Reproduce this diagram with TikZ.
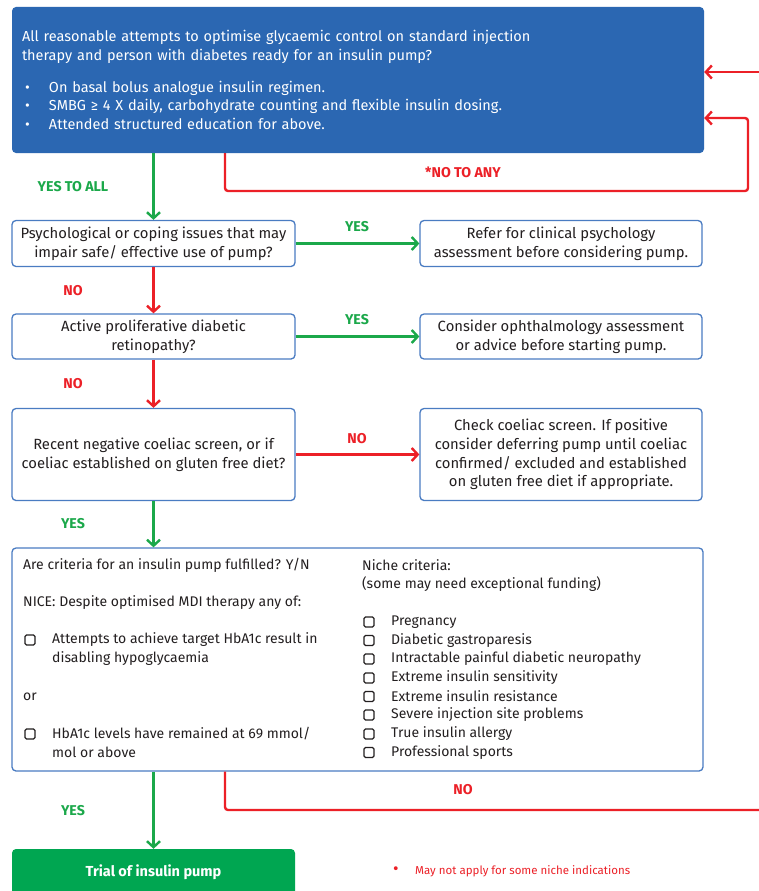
\documentclass[tikz,border=0pt]{standalone}
\usepackage{fontspec}
\setmainfont{Fira Sans}
\newfontfamily\critfont{Fira Sans}
\usetikzlibrary{arrows.meta}
\usetikzlibrary{calc}

\definecolor{boxblue}{HTML}{2B67B2}
\definecolor{edgeblue}{HTML}{4A7CC2}
\definecolor{yesgreen}{HTML}{1BA84A}
\definecolor{nored}{HTML}{EC2027}
\definecolor{pumpgreen}{HTML}{00A651}
\definecolor{txt}{HTML}{231F20}

\tikzset{
  qbox/.style={draw=edgeblue, line width=1.3pt, rounded corners=4pt, fill=white, text=txt,
    align=center, inner sep=2pt, font=\fontsize{14.8}{18.7}\selectfont},
  yes/.style={draw=yesgreen, line width=2.4pt, -{Straight Barb[length=6pt,width=13pt]}},
  no/.style={draw=nored, line width=2.4pt, -{Straight Barb[length=6pt,width=13pt]}},
  yeslbl/.style={text=yesgreen, font=\fontsize{14.2}{16}\selectfont\bfseries},
  nolbl/.style={text=nored, font=\fontsize{14.2}{16}\selectfont\bfseries},
  crittext/.style={anchor=west, text=txt, inner sep=0pt, font=\critfont\fontsize{14}{18.7}\selectfont},
  tick/.style={draw=txt, line width=1.1pt, rounded corners=1.5pt, minimum size=10pt, inner sep=0pt}
}

\begin{document}
\begin{tikzpicture}[x=1pt, y=-1pt]
    \useasboundingbox[fill=white] (0,0) rectangle (759,891);

    % top question
    \node[fill=boxblue, rounded corners=4pt, text=white, align=left, text width=672pt, inner xsep=10pt,
      minimum width=692pt, minimum height=146pt, font=\fontsize{14.5}{18.6}\selectfont] (top) at (358,80) {%
      All reasonable attempts to optimise glycaemic control on standard injection\\
      therapy and person with diabetes ready for an insulin pump?\\[13.5pt]
      \makebox[27pt][l]{\hspace{3pt}•}On basal bolus analogue insulin regimen.\\
      \makebox[27pt][l]{\hspace{3pt}•}SMBG ≥ 4 X daily, carbohydrate counting and flexible insulin dosing.\\
      \makebox[27pt][l]{\hspace{3pt}•}Attended structured education for above.};

    % questions and referrals
    \node[qbox, minimum width=283pt, minimum height=46pt] (psy) at (153.5,243.5) {Psychological or coping issues that may\\impair safe/ effective use of pump?};
    \node[qbox, minimum width=282pt, minimum height=46pt] (psyref) at (561,243.5) {Refer for clinical psychology\\assessment before considering pump.};
    \node[qbox, minimum width=283pt, minimum height=45pt] (ret) at (153.5,336.5) {Active proliferative diabetic\\retinopathy?};
    \node[qbox, minimum width=282pt, minimum height=45pt] (retref) at (561,336.5) {Consider ophthalmology assessment\\or advice before starting pump.};
    \node[qbox, minimum width=283pt, minimum height=92pt] (coel) at (153.5,454.5) {Recent negative coeliac screen, or if\\coeliac established on gluten free diet?};
    \node[qbox, minimum width=282pt, minimum height=92pt] (coelref) at (561,454.5) {Check coeliac screen. If positive\\consider deferring pump until coeliac\\confirmed/ excluded and established\\on gluten free diet if appropriate.};

    % criteria box
    \node[qbox, minimum width=691pt, minimum height=223pt] (crit) at (357.5,659.5) {};
    \node[crittext] (critq) at (23,565) {Are criteria for an insulin pump fulfilled? Y/N};
    \node[crittext] (nice) at (23,603) {NICE: Despite optimised MDI therapy any of:};
    \node[tick] (t1) at (30,640) {};
    \node[crittext] (hypo) at (52,640) {Attempts to achieve target HbA1c result in};
    \node[crittext] (hypob) at (52,659) {disabling hypoglycaemia};
    \node[crittext] (or) at (23,697) {or};
    \node[tick] (t2) at (30,734) {};
    \node[crittext] (hba) at (52,734) {HbA1c levels have remained at 69 mmol/};
    \node[crittext] (hbab) at (52,752.5) {mol or above};
    \node[crittext] (niche) at (362,565) {Niche criteria:};
    \node[crittext] (fund) at (362,584) {(some may need exceptional funding)};
    \foreach \y/\lbl [count=\i] in {622/Pregnancy, 640.5/Diabetic gastroparesis, 659/Intractable painful diabetic neuropathy,
        678/Extreme insulin sensitivity, 696.5/Extreme insulin resistance, 715/Severe injection site problems,
        734/True insulin allergy, 752.5/Professional sports}
      \node[tick] (n\i) at (369,\y) {} node[crittext] (nl\i) at (391,\y) {\lbl};

    % end
    \node[fill=pumpgreen, rounded corners=4pt, text=white, minimum width=283pt, minimum height=46pt,
      font=\fontsize{14.5}{16}\selectfont\bfseries] (trial) at (153.5,872) {Trial of insulin pump};
    \node[text=nored, anchor=west, inner sep=0pt, font=\fontsize{11.5}{13}\selectfont] (note) at (393,871)
      {\makebox[22pt][l]{\fontsize{17}{13}\selectfont•}May not apply for some niche indications};

    % connectors
    \coordinate (loopx) at (225,191);
    \coordinate (loopr) at (748,118);
    \coordinate (edge1) at (759,72);
    \coordinate (nox) at (225,810);
    \coordinate (edge2) at (759,810);

    \draw[yes] (top.south -| psy) -- (psy.north);
    \draw[no, rounded corners=3pt] (top.south -| loopx) -- (loopx) -| (loopr) -- (top.east |- loopr);
    \draw[no] (edge1) -- (top.east |- edge1);
    \draw[yes] (psy.east) -- (psyref.west);
    \draw[no] (psy) -- (ret);
    \draw[yes] (ret.east) -- (retref.west);
    \draw[no] (ret) -- (coel);
    \draw[no] (coel.east) -- (coelref.west);
    \draw[yes] (coel) -- (crit.north -| coel);
    \draw[yes] (crit.south -| trial) -- (trial);
    \draw[no, -, rounded corners=3pt] (crit.south -| nox) |- (edge2);

    % labels
    \node[yeslbl] (l1) at (73,187) {YES TO ALL};
    \node[nolbl] (l2) at (463,172) {*NO TO ANY};
    \node[yeslbl] (l3) at (357,227) {YES};
    \node[nolbl] (l4) at (73,291) {NO};
    \node[yeslbl] (l5) at (357,320) {YES};
    \node[nolbl] (l6) at (73,384) {NO};
    \node[nolbl] (l7) at (357,439) {NO};
    \node[yeslbl] (l8) at (73,524) {YES};
    \node[yeslbl] (l9) at (73,811) {YES};
    \node[nolbl] (l10) at (463,790) {NO};
\end{tikzpicture}
\end{document}
